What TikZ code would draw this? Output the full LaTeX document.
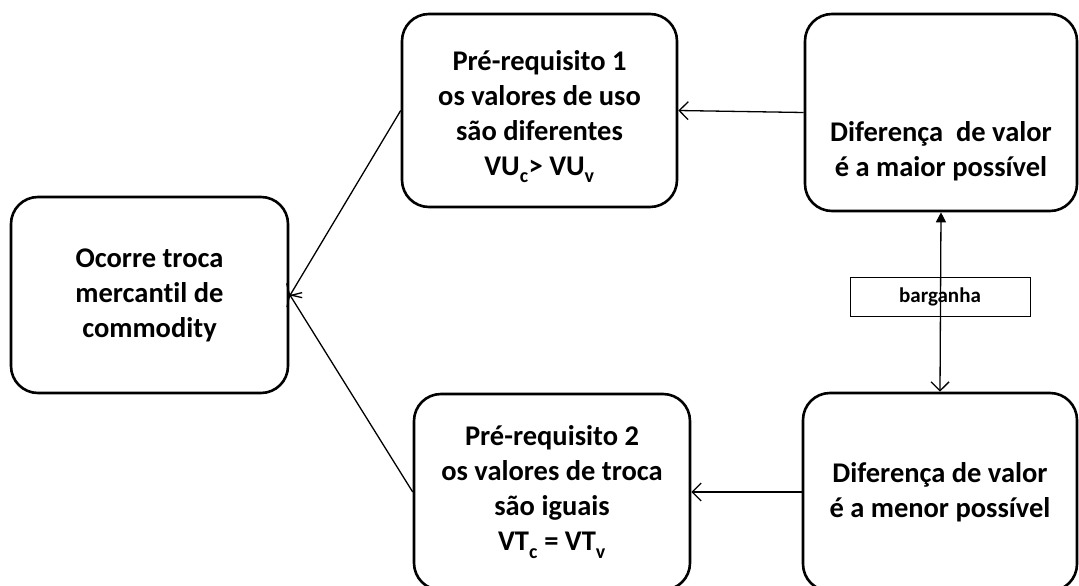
\documentclass[tikz,border=0pt]{standalone}
\usepackage{fontspec}
\setmainfont{Carlito}[RawFeature=-liga]
\usetikzlibrary{arrows.meta}
\newcommand{\lowsub}[1]{\raisebox{-0.12em}{\textsubscript{#1}}}
\begin{document}
\begin{tikzpicture}[x=1pt,y=-1pt,
  txt/.style={inner sep=0pt,align=center,font=\fontsize{28.5}{35}\selectfont\bfseries},
  box/.style={draw,line width=2.6pt,rounded corners=27pt,txt},
  conn/.style={line width=1.3pt,-{Straight Barb[length=9pt,width=18pt,line width=1.3pt]}},
  tag/.style={draw,line width=0.6pt,minimum width=180pt,minimum height=39pt,inner sep=0pt,
    font=\fontsize{21}{24}\selectfont\bfseries}]
\useasboundingbox (0,0) rectangle (1079,586);
\node[box,minimum width=277pt,minimum height=196pt] (occ) at (149.5,295)
  {Ocorre troca\\mercantil de\\commodity};
\node[box,minimum width=275pt,minimum height=193pt,
  label={[txt,yshift=-6pt]center:{Pré-requisito 1\\os valores de uso\\são diferentes\\VU\lowsub{c}> VU\lowsub{v}}}] (pr1) at (539.5,110.5) {};
\node[box,minimum width=272pt,minimum height=197pt,
  label={[txt,yshift=-39pt]center:{Diferença~ de valor\\é a maior possível}}] (dmax) at (941,112.5) {};
\node[box,minimum width=276pt,minimum height=196pt] (pr2) at (552,492)
  {Pré-requisito 2\\os valores de troca\\são iguais\\VT\lowsub{c} = VT\lowsub{v}};
\node[box,minimum width=274pt,minimum height=198pt] (dmin) at (940,492)
  {Diferença de valor\\é a menor possível};
\node[tag] (barg) at (940,296.5) {barganha};
\draw[conn] (dmax.west) -- (pr1.east);
\draw[conn] (dmin.west) -- (pr2.east);
\draw[conn] (pr1.west) -- ([yshift=-1.5pt]occ.east);
\draw[conn] (pr2.west) -- ([yshift=1pt]occ.east);
\draw[line width=1.3pt,{Triangle[length=10pt,width=10pt]}-{Straight Barb[length=9pt,width=18pt,line width=1.3pt]}]
  (dmax.south) -- (dmin.north);
\end{tikzpicture}
\end{document}
